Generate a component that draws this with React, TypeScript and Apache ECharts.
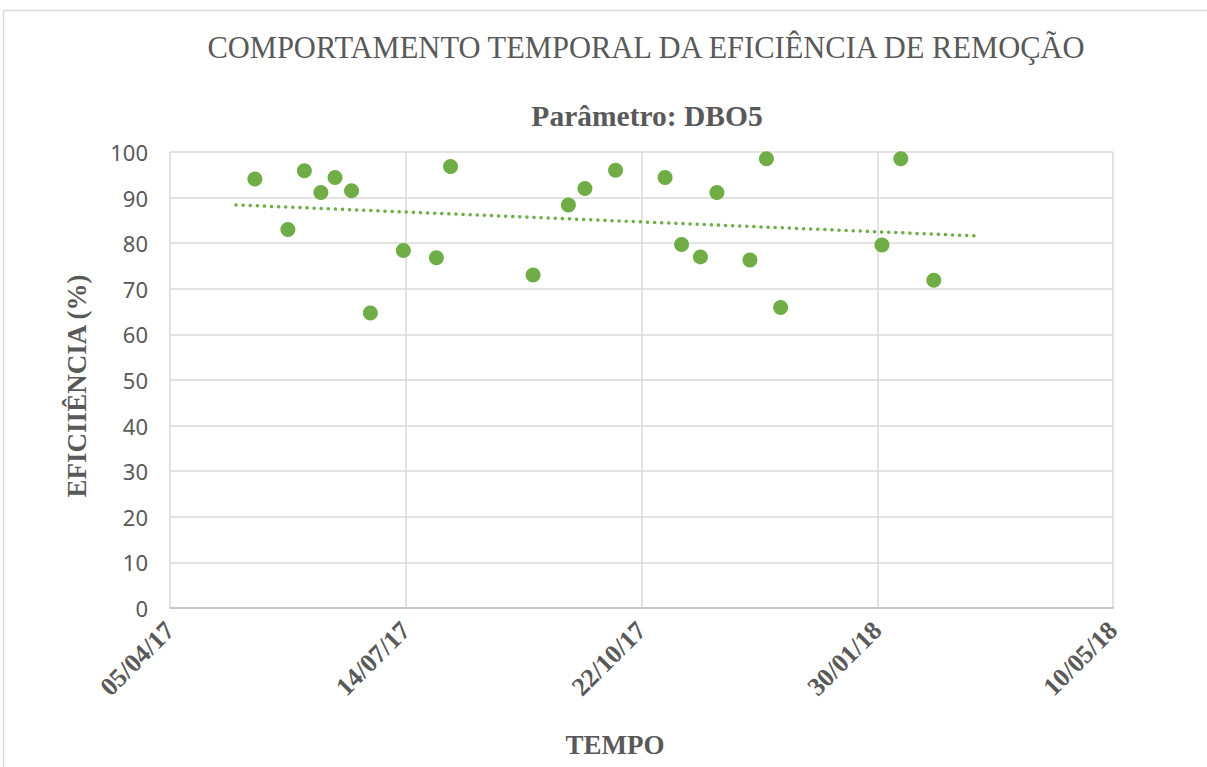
import React, { useEffect, useRef } from "react";
import * as echarts from "echarts";

const DAY = 24 * 3600 * 1000;
const axisStart = "2017-04-05";
const axisSpanDays = 400;
const tickDays = 100;

const sampleDates = [
  "2017-05-11", "2017-05-25", "2017-06-01", "2017-06-08", "2017-06-14",
  "2017-06-21", "2017-06-29", "2017-07-13", "2017-07-27", "2017-08-02",
  "2017-09-06", "2017-09-21", "2017-09-28", "2017-10-11", "2017-11-01",
  "2017-11-08", "2017-11-16", "2017-11-23", "2017-12-07", "2017-12-14",
  "2017-12-20", "2018-02-01", "2018-02-09", "2018-02-23",
];
const efficiency = [
  94.1, 83.0, 95.9, 91.1, 94.4,
  91.5, 64.7, 78.4, 76.8, 96.8,
  73.0, 88.4, 92.0, 96.0, 94.4,
  79.7, 77.0, 91.1, 76.3, 98.5,
  65.9, 79.6, 98.5, 71.9,
];
const trendDates = ["2017-05-03", "2018-03-13"];
const trendValues = [88.4, 81.6];

const yTicks = { min: 0, max: 100, interval: 10 };

const titleText = "COMPORTAMENTO TEMPORAL DA EFICIÊNCIA DE REMOÇÃO";
const subtitleText = "Parâmetro: DBO5";
const xName = "TEMPO";
const yName = "EFICIIÊNCIA (%)";

function ms(d: string): number {
  const [y, m, dd] = d.split("-").map(Number);
  return Date.UTC(y, m - 1, dd);
}
function fmt(v: number): string {
  const d = new Date(v);
  const p = (n: number) => String(n).padStart(2, "0");
  return `${p(d.getUTCDate())}/${p(d.getUTCMonth() + 1)}/${p(d.getUTCFullYear() % 100)}`;
}

export default function App() {
  const ref = useRef<HTMLDivElement>(null);
  useEffect(() => {
    if (!ref.current) return;
    const chart = echarts.init(ref.current, null, { renderer: "svg" });
    const xmin = ms(axisStart);
    const gray = "#595959";
    const grid = "#d9d9d9";
    chart.setOption({
      animation: false,
      backgroundColor: "#ffffff",
      grid: { left: 170, width: 943, top: 152, height: 456, containLabel: false },
      graphic: [
        {
          type: "rect",
          shape: { x: 3.5, y: 10.5, width: 1300, height: 1000 },
          style: { fill: "none", stroke: "#d9d9d9", lineWidth: 1.5 },
          silent: true,
        },
        {
          type: "text",
          x: 646,
          y: 48,
          style: {
            text: titleText,
            fill: gray,
            font: "30.5px 'Liberation Serif'",
            textAlign: "center",
            textVerticalAlign: "middle",
          },
        },
        {
          type: "text",
          x: 647,
          y: 116,
          style: {
            text: subtitleText,
            fill: gray,
            font: "bold 29.5px 'Liberation Serif'",
            textAlign: "center",
            textVerticalAlign: "middle",
          },
        },
        {
          type: "text",
          x: 615,
          y: 745,
          style: {
            text: xName,
            fill: gray,
            font: "bold 27px 'Liberation Serif'",
            textAlign: "center",
            textVerticalAlign: "middle",
          },
        },
        {
          type: "text",
          x: 77,
          y: 386,
          rotation: Math.PI / 2,
          style: {
            text: yName,
            fill: gray,
            font: "bold 27px 'Liberation Serif'",
            textAlign: "center",
            textVerticalAlign: "middle",
          },
        },
      ],
      xAxis: {
        type: "value",
        min: xmin,
        max: xmin + axisSpanDays * DAY,
        interval: tickDays * DAY,
        axisLine: { show: true, lineStyle: { color: "#bfbfbf", width: 1.5 } },
        axisTick: { show: false },
        axisLabel: {
          formatter: (v: number) => fmt(v),
          rotate: 45,
          margin: 18,
          fontFamily: "Liberation Serif",
          fontWeight: "bold",
          fontSize: 26,
          color: gray,
          showMinLabel: true,
          showMaxLabel: true,
        },
        splitLine: { show: true, showMinLine: true, showMaxLine: true, lineStyle: { color: grid, width: 1.5 } },
      },
      yAxis: {
        type: "value",
        min: yTicks.min,
        max: yTicks.max,
        interval: yTicks.interval,
        axisLine: { show: false },
        axisTick: { show: false },
        axisLabel: {
          margin: 22,
          fontFamily: "Noto Sans",
          fontSize: 22,
          color: gray,
        },
        splitLine: { show: true, showMinLine: true, showMaxLine: true, lineStyle: { color: grid, width: 1.5 } },
      },
      series: [
        {
          type: "line",
          data: trendDates.map((d, i) => [ms(d), trendValues[i]]),
          symbol: "none",
          lineStyle: { color: "#70ad47", width: 3.5, type: [0.1, 7], cap: "round" },
          z: 2,
        },
        {
          type: "scatter",
          data: sampleDates.map((d, i) => [ms(d), efficiency[i]]),
          symbol: "circle",
          symbolSize: 15,
          itemStyle: { color: "#70ad47", opacity: 1 },
          z: 3,
        },
      ],
    });
    return () => chart.dispose();
  }, []);
  return (
    <div
      ref={ref}
      style={{ position: "absolute", left: 0, top: 0, width: 1207, height: 767 }}
    />
  );
}
